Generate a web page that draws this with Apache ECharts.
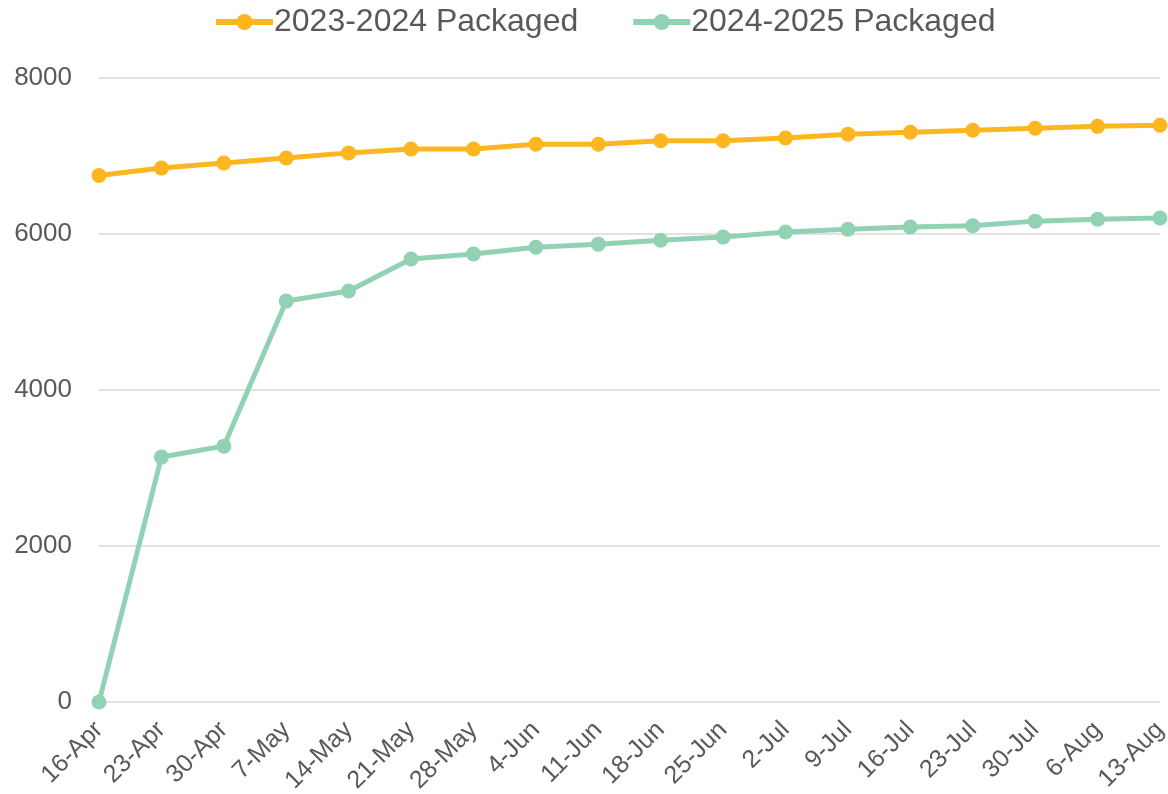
<!DOCTYPE html>
<html>
<head>
<meta charset="utf-8">
<script src="https://cdn.jsdelivr.net/npm/echarts@6/dist/echarts.min.js"></script>
<style>
  html, body { margin: 0; padding: 0; background: #fff; }
  #main { width: 1168px; height: 794px; }
</style>
</head>
<body>
<div id="main"></div>
<script>
var categories = ['16-Apr', '23-Apr', '30-Apr', '7-May', '14-May', '21-May', '28-May', '4-Jun', '11-Jun',
  '18-Jun', '25-Jun', '2-Jul', '9-Jul', '16-Jul', '23-Jul', '30-Jul', '6-Aug', '13-Aug'];
var packaged2324 = [6750, 6845, 6910, 6975, 7040, 7090, 7090, 7150, 7150,
  7195, 7195, 7230, 7280, 7305, 7330, 7355, 7380, 7395];
var packaged2425 = [0, 3140, 3280, 5140, 5270, 5680, 5745, 5830, 5870,
  5920, 5960, 6025, 6060, 6090, 6105, 6165, 6190, 6205];
var yTicks = { min: 0, max: 8000, interval: 2000 };

var font = 'Liberation Sans, Arial, sans-serif';
var myChart = echarts.init(document.getElementById('main'));
myChart.setOption({
  animation: false,
  textStyle: { fontFamily: font, color: '#595959' },
  legend: {
    top: 1,
    left: 208,
    itemWidth: 57,
    itemHeight: 20,
    itemGap: 52,
    lineStyle: { width: 6 },
    textStyle: { fontSize: 32, color: '#595959', fontFamily: font, padding: [0, 0, 0, -4] }
  },
  grid: { left: 99, right: 8, top: 78, bottom: 92, outerBoundsMode: 'none' },
  xAxis: {
    type: 'category',
    data: categories,
    boundaryGap: false,
    axisLine: { show: false },
    axisTick: { show: false },
    axisLabel: { rotate: 45, fontSize: 25, color: '#595959', margin: 24, interval: 0 }
  },
  yAxis: {
    type: 'value',
    min: yTicks.min,
    max: yTicks.max,
    interval: yTicks.interval,
    axisLine: { show: false },
    axisTick: { show: false },
    axisLabel: { fontSize: 26, color: '#595959', margin: 27, formatter: function (v) { return String(v); } },
    splitLine: { lineStyle: { color: '#d9d9d9', width: 1.5 } }
  },
  series: [
    {
      name: '2023-2024 Packaged',
      type: 'line',
      data: packaged2324,
      symbol: 'circle',
      symbolSize: 15,
      lineStyle: { width: 5, color: '#FDB620' },
      itemStyle: { color: '#FDB620' }
    },
    {
      name: '2024-2025 Packaged',
      type: 'line',
      data: packaged2425,
      symbol: 'circle',
      symbolSize: 15,
      lineStyle: { width: 5, color: '#92D2B4' },
      itemStyle: { color: '#92D2B4' }
    }
  ]
});
</script>
</body>
</html>
